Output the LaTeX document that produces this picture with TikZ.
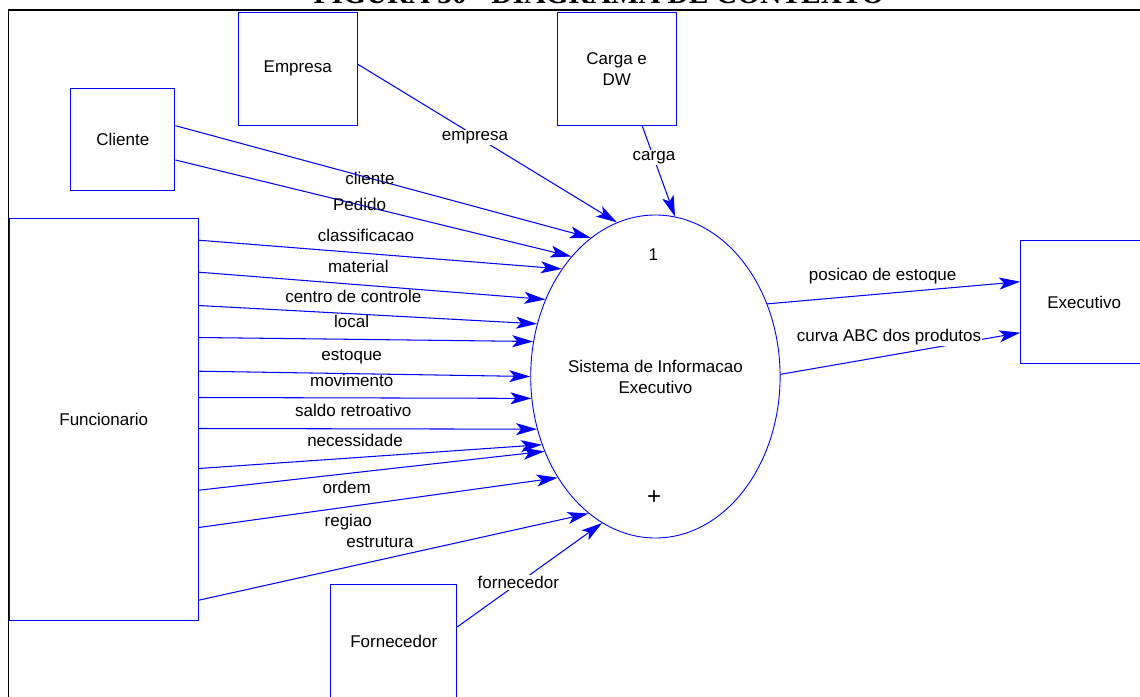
\documentclass[tikz,border=0pt]{standalone}
\usepackage{fontspec}
\setmainfont{Liberation Sans}
\newfontfamily\titlefont{Liberation Serif}
\usetikzlibrary{arrows.meta,shapes.geometric}

\tikzset{
  box/.style={draw=blue, line width=1pt, fill=white, inner sep=0pt, align=center},
  lbl/.style={inner sep=1pt, text=black},
  cutlbl/.style={lbl, fill=white},
  flow/.style={draw=blue, line width=1.05pt, -{Stealth[length=21pt,width=12pt,inset=5pt]}},
}

\begin{document}
\begin{tikzpicture}[x=1pt,y=-1pt,font=\fontsize{17}{21}\selectfont]
\clip (0,0) rectangle (1140,696);
\fill[white] (0,0) rectangle (1140,696);

% page frame and heading
\node[anchor=base, inner sep=0pt, font=\titlefont\bfseries\fontsize{29.5}{30}\selectfont] (title) at (599,3.5) {FIGURA 30 - DIAGRAMA DE CONTEXTO};
\draw[line width=2.2pt] (8,10) -- (1145,10);
\draw[line width=1.3pt] (8.6,9) -- (8.6,700);

% external entities
\node[box, minimum width=119.3pt, minimum height=113pt] (emp) at (297.7,68.5) {Empresa};
\node[box, minimum width=118.7pt, minimum height=112.7pt] (car) at (616.7,69.3) {Carga e\\DW};
\node[box, minimum width=104.3pt, minimum height=102pt] (cli) at (122.8,139) {Cliente};
\node[box, minimum width=189pt, minimum height=402pt] (fun) at (103.8,419) {Funcionario};
\node[box, minimum width=127pt, minimum height=122.6pt] (exe) at (1084.2,302) {Executivo};
\node[box, minimum width=125.7pt, minimum height=114pt] (for) at (393.8,641) {Fornecedor};

% process
\node[ellipse, draw=blue, line width=0.9pt, minimum width=249.4pt, minimum height=323pt, inner sep=0pt] (sis) at (655.4,376.5) {};
\node[lbl, align=center] (sisname) at (655.4,377) {Sistema de Informacao\\Executivo};
\node[lbl] (sisnum) at (653.3,255) {1};
\node[lbl, font=\fontsize{24}{24}\selectfont] (sisplus) at (654,497.5) {+};

% data flows
\draw[flow] ([yshift=4.2pt]emp.east) -- (sis.104.7);
\draw[flow] ([xshift=25.6pt]car.south) -- (sis.83.8);
\draw[flow] ([yshift=13.3pt]cli.east) -- (sis.115.2);
\draw[flow] ([yshift=-21pt]cli.east) -- (sis.125.8);
\draw[flow] ([yshift=-22.7pt]fun.north east) -- (sis.131.3);
\draw[flow] ([yshift=-54.7pt]fun.north east) -- (sis.145.3);
\draw[flow] ([yshift=-88pt]fun.north east) -- (sis.156.1);
\draw[flow] ([yshift=-120pt]fun.north east) -- (sis.164.7);
\draw[flow] ([yshift=-153.7pt]fun.north east) -- (sis.180.5);
\draw[flow] ([yshift=-180pt]fun.north east) -- (sis.190.8);
\draw[flow] ([yshift=-211pt]fun.north east) -- (sis.204.3);
\draw[flow] ([yshift=-251pt]fun.north east) -- (sis.211.1);
\draw[flow] ([yshift=-272.7pt]fun.north east) -- (sis.214.7);
\draw[flow] ([yshift=-310pt]fun.north east) -- (sis.226.5);
\draw[flow] ([yshift=-382.7pt]fun.north east) -- (sis.244.6);
\draw[flow] ([yshift=14pt]for.east) -- (sis.250.6);
\draw[flow] (sis.33.4) -- ([yshift=20.3pt]exe.west);
\draw[flow] (sis.1.7) -- ([yshift=-30.7pt]exe.west);

% flow labels
\node[cutlbl] (l-emp) at (475,137.7) {empresa};
\node[cutlbl] (l-car) at (654,157.7) {carga};
\node[lbl] (l-cli) at (370,178) {cliente};
\node[lbl] (l-ped) at (359.5,204) {Pedido};
\node[lbl] (l-cla) at (366,235) {classificacao};
\node[lbl] (l-mat) at (358.3,266.7) {material};
\node[lbl] (l-cen) at (353.3,296) {centro de controle};
\node[lbl] (l-loc) at (351.7,321.7) {local};
\node[lbl] (l-est) at (351.7,356.7) {estoque};
\node[lbl] (l-mov) at (351.7,380) {movimento};
\node[lbl] (l-sal) at (353.3,410) {saldo retroativo};
\node[lbl] (l-nec) at (355,440) {necessidade};
\node[lbl] (l-ord) at (346.7,487.3) {ordem};
\node[lbl] (l-reg) at (348.3,521.7) {regiao};
\node[lbl] (l-etr) at (380,541.7) {estrutura};
\node[cutlbl] (l-for) at (518.3,582.7) {fornecedor};
\node[lbl] (l-pos) at (882.7,275.7) {posicao de estoque};
\node[cutlbl] (l-abc) at (889,336.7) {curva ABC dos produtos};
\end{tikzpicture}
\end{document}
